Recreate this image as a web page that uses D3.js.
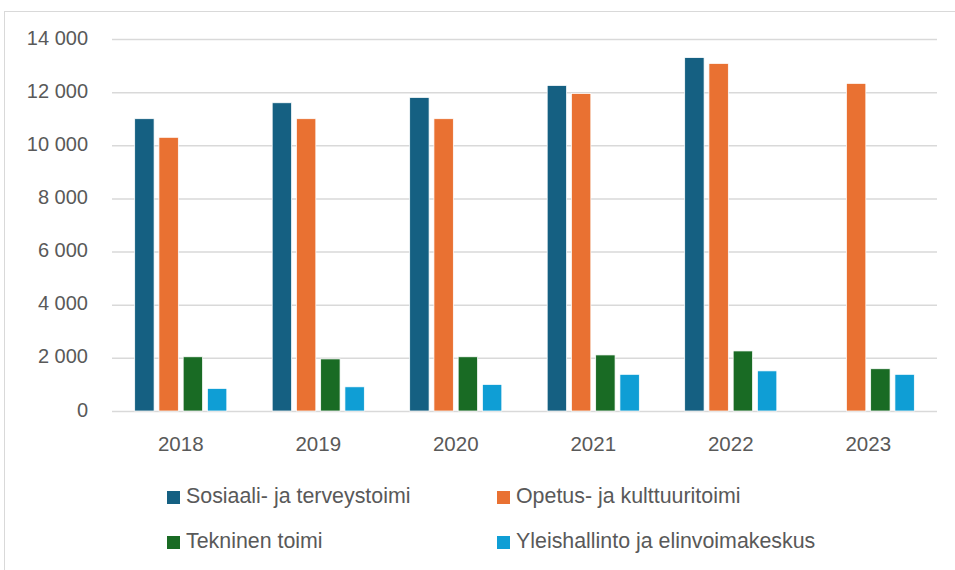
<!DOCTYPE html>
<html>
<head>
<meta charset="utf-8">
<script src="https://cdn.jsdelivr.net/npm/d3@7"></script>
<style>
  body { margin: 0; background: #fff; }
  text { font-family: "Liberation Sans", Arial, sans-serif; fill: #595959; }
</style>
</head>
<body>
<svg id="chart" width="955" height="570"></svg>
<script>
// data
var years = ["2018", "2019", "2020", "2021", "2022", "2023"];
var seriesNames = ["Sosiaali- ja terveystoimi", "Opetus- ja kulttuuritoimi", "Tekninen toimi", "Yleishallinto ja elinvoimakeskus"];
var sosiaali = [11000, 11600, 11800, 12250, 13300, null];
var opetus = [10300, 11000, 11000, 11950, 13080, 12330];
var tekninen = [2040, 1960, 2040, 2110, 2260, 1590];
var yleis = [850, 910, 1000, 1380, 1510, 1380];
var colors = ["#156082", "#E97132", "#196B24", "#0F9ED5"];
var yTicks = [0, 2000, 4000, 6000, 8000, 10000, 12000, 14000];

var allSeries = [sosiaali, opetus, tekninen, yleis];

var svg = d3.select("#chart");

// outer chart border
svg.append("rect")
  .attr("x", 4.5).attr("y", 11.5)
  .attr("width", 960).attr("height", 600)
  .attr("fill", "none").attr("stroke", "#d9d9d9").attr("stroke-width", 1);

var margin = { left: 112, right: 18, top: 39, bottom: 159 };
var width = 955 - margin.left - margin.right,
  height = 570 - margin.top - margin.bottom;

var g = svg.append("g").attr("transform", "translate(" + margin.left + "," + margin.top + ")");

var x = d3.scaleBand().domain(years).range([0, width]).padding(0);
var x1 = d3.scaleBand().domain(d3.range(4)).range([x.bandwidth() * 0.165, x.bandwidth() * 0.835]).paddingInner(0.2);
var y = d3.scaleLinear().domain([0, 14000]).range([height, 0]);

var fmt = function(d) { return d3.format(",")(d).replace(/,/g, " "); };

// grid lines + y labels
var yAxis = g.append("g")
  .call(d3.axisLeft(y).tickValues(yTicks).tickSize(-width).tickFormat(fmt).tickPadding(24));
yAxis.select(".domain").remove();
yAxis.selectAll(".tick line").attr("stroke", "#d9d9d9").attr("stroke-width", 1.5);
yAxis.selectAll(".tick text").style("font-size", "20px").attr("fill", "#595959").attr("dy", "0.25em");

// bars
years.forEach(function(yr, i) {
  allSeries.forEach(function(s, k) {
    var v = s[i];
    if (v == null) return;
    g.append("rect")
      .attr("x", x(yr) + x1(k))
      .attr("y", y(v))
      .attr("width", x1.bandwidth())
      .attr("height", y(0) - y(v))
      .attr("fill", colors[k])
      .attr("stroke", "#fff").attr("stroke-width", 0.75);
  });
});

// x axis labels
var xAxis = g.append("g").attr("transform", "translate(0," + height + ")")
  .call(d3.axisBottom(x).tickSize(0).tickPadding(25));
xAxis.select(".domain").remove();
xAxis.selectAll(".tick text").style("font-size", "20.5px").attr("fill", "#595959");

// legend
var legendPos = [[167, 503], [497, 503], [167, 548], [497, 548]];
seriesNames.forEach(function(name, k) {
  var lg = svg.append("g").attr("transform", "translate(" + legendPos[k][0] + "," + legendPos[k][1] + ")");
  lg.append("rect").attr("x", 0).attr("y", -12).attr("width", 13).attr("height", 13).attr("fill", colors[k]);
  lg.append("text").attr("transform", "translate(19,0) scale(0.93,1)")
    .style("font-size", "23px").text(name);
});
</script>
</body>
</html>
